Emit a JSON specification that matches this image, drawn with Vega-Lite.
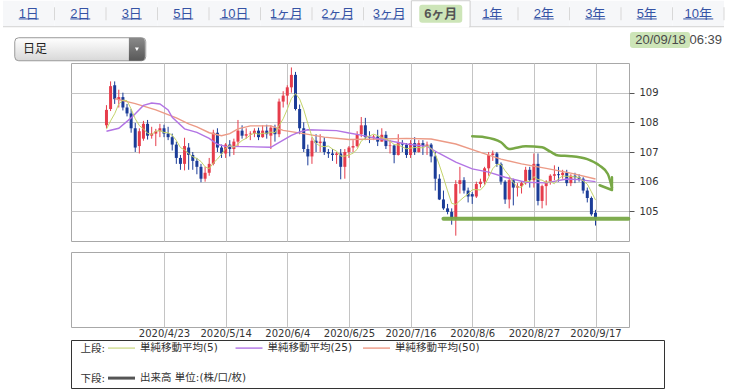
{
"$schema": "https://vega.github.io/schema/vega-lite/v6.json",
"background": "#ffffff",
"padding": {"left": 2, "top": 0, "right": 0, "bottom": 0},
"spacing": -1,
"config": {"view": {"stroke": null}, "font": "DejaVu Sans"},
"datasets": {
"tabs": [{"tab":"1日","selected":false},{"tab":"2日","selected":false},{"tab":"3日","selected":false},{"tab":"5日","selected":false},{"tab":"10日","selected":false},{"tab":"1ヶ月","selected":false},{"tab":"2ヶ月","selected":false},{"tab":"3ヶ月","selected":false},{"tab":"6ヶ月","selected":true},{"tab":"1年","selected":false},{"tab":"2年","selected":false},{"tab":"3年","selected":false},{"tab":"5年","selected":false},{"tab":"10年","selected":false}],
"candles": [
{"d":"2020-04-03","o":107.90,"h":108.58,"l":107.80,"c":108.42},
{"d":"2020-04-06","o":108.45,"h":109.38,"l":108.38,"c":109.22},
{"d":"2020-04-07","o":109.25,"h":109.38,"l":108.62,"c":108.78},
{"d":"2020-04-08","o":108.75,"h":109.10,"l":108.50,"c":108.85},
{"d":"2020-04-09","o":108.85,"h":109.00,"l":108.40,"c":108.50},
{"d":"2020-04-10","o":108.50,"h":108.62,"l":108.20,"c":108.30},
{"d":"2020-04-13","o":108.30,"h":108.45,"l":107.65,"c":107.80},
{"d":"2020-04-14","o":107.80,"h":107.98,"l":107.00,"c":107.15},
{"d":"2020-04-15","o":107.20,"h":107.80,"l":106.95,"c":107.70},
{"d":"2020-04-16","o":107.45,"h":108.05,"l":107.38,"c":107.95},
{"d":"2020-04-17","o":107.95,"h":108.08,"l":107.42,"c":107.55},
{"d":"2020-04-20","o":107.55,"h":107.85,"l":107.45,"c":107.62},
{"d":"2020-04-21","o":107.62,"h":107.78,"l":107.20,"c":107.70},
{"d":"2020-04-22","o":107.70,"h":107.95,"l":107.50,"c":107.80},
{"d":"2020-04-23","o":107.80,"h":107.92,"l":107.50,"c":107.62},
{"d":"2020-04-24","o":107.62,"h":107.85,"l":107.40,"c":107.50},
{"d":"2020-04-27","o":107.50,"h":107.62,"l":107.05,"c":107.25},
{"d":"2020-04-28","o":107.25,"h":107.35,"l":106.60,"c":106.80},
{"d":"2020-04-29","o":106.80,"h":106.90,"l":106.40,"c":106.60},
{"d":"2020-04-30","o":106.60,"h":107.48,"l":106.38,"c":107.20},
{"d":"2020-05-01","o":107.15,"h":107.30,"l":106.40,"c":106.90},
{"d":"2020-05-04","o":106.90,"h":107.00,"l":106.40,"c":106.70},
{"d":"2020-05-05","o":106.70,"h":106.80,"l":106.25,"c":106.50},
{"d":"2020-05-06","o":106.50,"h":106.60,"l":105.98,"c":106.10},
{"d":"2020-05-07","o":106.10,"h":106.50,"l":106.00,"c":106.30},
{"d":"2020-05-08","o":106.30,"h":106.80,"l":106.20,"c":106.60},
{"d":"2020-05-11","o":106.60,"h":107.75,"l":106.55,"c":107.65},
{"d":"2020-05-12","o":107.65,"h":107.80,"l":107.00,"c":107.15},
{"d":"2020-05-13","o":107.15,"h":107.25,"l":106.80,"c":106.95},
{"d":"2020-05-14","o":106.95,"h":107.30,"l":106.80,"c":107.25},
{"d":"2020-05-15","o":107.25,"h":107.40,"l":106.85,"c":107.10},
{"d":"2020-05-18","o":107.10,"h":107.45,"l":106.90,"c":107.35},
{"d":"2020-05-19","o":107.35,"h":108.08,"l":107.20,"c":107.72},
{"d":"2020-05-20","o":107.72,"h":107.90,"l":107.45,"c":107.55},
{"d":"2020-05-21","o":107.55,"h":107.80,"l":107.45,"c":107.60},
{"d":"2020-05-22","o":107.60,"h":107.70,"l":107.40,"c":107.62},
{"d":"2020-05-25","o":107.62,"h":107.80,"l":107.50,"c":107.72},
{"d":"2020-05-26","o":107.72,"h":107.82,"l":107.40,"c":107.50},
{"d":"2020-05-27","o":107.50,"h":107.90,"l":107.48,"c":107.72},
{"d":"2020-05-28","o":107.72,"h":107.92,"l":107.45,"c":107.60},
{"d":"2020-05-29","o":107.55,"h":107.90,"l":107.10,"c":107.82},
{"d":"2020-06-01","o":107.82,"h":107.92,"l":107.35,"c":107.60},
{"d":"2020-06-02","o":107.60,"h":108.80,"l":107.50,"c":108.70},
{"d":"2020-06-03","o":108.70,"h":109.05,"l":108.50,"c":108.90},
{"d":"2020-06-04","o":108.90,"h":109.25,"l":108.60,"c":109.18},
{"d":"2020-06-05","o":109.18,"h":109.85,"l":109.00,"c":109.60},
{"d":"2020-06-08","o":109.60,"h":109.70,"l":108.40,"c":108.45},
{"d":"2020-06-09","o":108.45,"h":108.60,"l":107.60,"c":107.80},
{"d":"2020-06-10","o":107.80,"h":108.00,"l":107.00,"c":107.10},
{"d":"2020-06-11","o":107.10,"h":107.25,"l":106.55,"c":106.85},
{"d":"2020-06-12","o":106.85,"h":107.50,"l":106.60,"c":107.38},
{"d":"2020-06-15","o":107.38,"h":107.60,"l":107.00,"c":107.30},
{"d":"2020-06-16","o":107.30,"h":107.60,"l":107.00,"c":107.35},
{"d":"2020-06-17","o":107.35,"h":107.50,"l":106.90,"c":107.00},
{"d":"2020-06-18","o":107.00,"h":107.10,"l":106.80,"c":106.95},
{"d":"2020-06-19","o":106.95,"h":107.10,"l":106.70,"c":106.90},
{"d":"2020-06-22","o":106.90,"h":107.00,"l":106.60,"c":106.95},
{"d":"2020-06-23","o":106.95,"h":107.10,"l":106.08,"c":106.50},
{"d":"2020-06-24","o":106.50,"h":107.10,"l":106.10,"c":107.00},
{"d":"2020-06-25","o":107.00,"h":107.20,"l":106.80,"c":107.15},
{"d":"2020-06-26","o":107.15,"h":107.40,"l":107.00,"c":107.20},
{"d":"2020-06-29","o":107.20,"h":107.70,"l":107.15,"c":107.60},
{"d":"2020-06-30","o":107.60,"h":108.18,"l":107.50,"c":107.90},
{"d":"2020-07-01","o":107.90,"h":108.15,"l":107.40,"c":107.50},
{"d":"2020-07-02","o":107.50,"h":107.70,"l":107.30,"c":107.48},
{"d":"2020-07-03","o":107.48,"h":107.58,"l":107.40,"c":107.52},
{"d":"2020-07-06","o":107.52,"h":107.75,"l":107.20,"c":107.35},
{"d":"2020-07-07","o":107.35,"h":107.80,"l":107.35,"c":107.58},
{"d":"2020-07-08","o":107.58,"h":107.70,"l":107.10,"c":107.20},
{"d":"2020-07-09","o":107.20,"h":107.40,"l":106.95,"c":107.22},
{"d":"2020-07-10","o":107.22,"h":107.25,"l":106.62,"c":106.90},
{"d":"2020-07-13","o":106.90,"h":107.60,"l":106.88,"c":107.30},
{"d":"2020-07-14","o":107.30,"h":107.40,"l":107.00,"c":107.25},
{"d":"2020-07-15","o":107.25,"h":107.30,"l":106.80,"c":106.90},
{"d":"2020-07-16","o":106.90,"h":107.40,"l":106.80,"c":107.30},
{"d":"2020-07-17","o":107.30,"h":107.50,"l":106.90,"c":107.00},
{"d":"2020-07-20","o":107.00,"h":107.40,"l":106.98,"c":107.30},
{"d":"2020-07-21","o":107.30,"h":107.40,"l":106.90,"c":107.20},
{"d":"2020-07-22","o":107.20,"h":107.35,"l":106.90,"c":107.25},
{"d":"2020-07-23","o":107.25,"h":107.30,"l":106.65,"c":106.85},
{"d":"2020-07-24","o":106.85,"h":107.00,"l":105.70,"c":106.10},
{"d":"2020-07-27","o":106.10,"h":106.25,"l":105.38,"c":105.40},
{"d":"2020-07-28","o":105.40,"h":105.70,"l":105.05,"c":105.10},
{"d":"2020-07-29","o":105.10,"h":105.25,"l":104.90,"c":104.98},
{"d":"2020-07-30","o":104.98,"h":105.10,"l":104.55,"c":104.75},
{"d":"2020-07-31","o":104.75,"h":106.05,"l":104.18,"c":105.92},
{"d":"2020-08-03","o":105.92,"h":106.50,"l":105.60,"c":106.05},
{"d":"2020-08-04","o":106.05,"h":106.15,"l":105.60,"c":105.70},
{"d":"2020-08-05","o":105.70,"h":105.80,"l":105.30,"c":105.50},
{"d":"2020-08-06","o":105.58,"h":105.65,"l":105.25,"c":105.50},
{"d":"2020-08-07","o":105.50,"h":106.00,"l":105.45,"c":105.92},
{"d":"2020-08-10","o":105.92,"h":106.10,"l":105.80,"c":106.00},
{"d":"2020-08-11","o":106.00,"h":106.50,"l":105.90,"c":106.45},
{"d":"2020-08-12","o":106.45,"h":107.00,"l":106.20,"c":106.90},
{"d":"2020-08-13","o":106.90,"h":107.05,"l":106.70,"c":106.95},
{"d":"2020-08-14","o":106.95,"h":107.00,"l":106.50,"c":106.60},
{"d":"2020-08-17","o":106.60,"h":106.65,"l":105.90,"c":106.00},
{"d":"2020-08-18","o":106.00,"h":106.05,"l":105.25,"c":105.40},
{"d":"2020-08-19","o":105.40,"h":106.15,"l":105.10,"c":106.05},
{"d":"2020-08-20","o":106.05,"h":106.10,"l":105.20,"c":105.80},
{"d":"2020-08-21","o":105.80,"h":105.95,"l":105.50,"c":105.85},
{"d":"2020-08-24","o":105.85,"h":106.00,"l":105.60,"c":105.95},
{"d":"2020-08-25","o":105.95,"h":106.50,"l":105.90,"c":106.40},
{"d":"2020-08-26","o":106.40,"h":106.50,"l":105.80,"c":106.05},
{"d":"2020-08-27","o":106.05,"h":106.95,"l":105.80,"c":106.60},
{"d":"2020-08-28","o":106.60,"h":106.95,"l":105.20,"c":105.35},
{"d":"2020-08-31","o":105.35,"h":105.90,"l":105.10,"c":105.85},
{"d":"2020-09-01","o":105.85,"h":106.05,"l":105.20,"c":106.00},
{"d":"2020-09-02","o":106.00,"h":106.25,"l":105.90,"c":106.20},
{"d":"2020-09-03","o":106.20,"h":106.55,"l":106.05,"c":106.25},
{"d":"2020-09-04","o":106.25,"h":106.50,"l":106.00,"c":106.22},
{"d":"2020-09-07","o":106.22,"h":106.40,"l":106.10,"c":106.30},
{"d":"2020-09-08","o":106.30,"h":106.40,"l":105.85,"c":105.95},
{"d":"2020-09-09","o":105.95,"h":106.25,"l":105.85,"c":106.20},
{"d":"2020-09-10","o":106.20,"h":106.30,"l":105.95,"c":106.15},
{"d":"2020-09-11","o":106.15,"h":106.25,"l":106.00,"c":106.10},
{"d":"2020-09-14","o":106.10,"h":106.15,"l":105.60,"c":105.70},
{"d":"2020-09-15","o":105.70,"h":105.80,"l":105.30,"c":105.45},
{"d":"2020-09-16","o":105.45,"h":105.50,"l":104.85,"c":104.90},
{"d":"2020-09-17","o":104.95,"h":105.05,"l":104.52,"c":104.75}
],
"ma": [
{"d":"2020-04-03","s":"5","v":107.77},{"d":"2020-04-06","s":"5","v":108.05},{"d":"2020-04-07","s":"5","v":108.29},{"d":"2020-04-08","s":"5","v":108.62},{"d":"2020-04-09","s":"5","v":108.75},{"d":"2020-04-10","s":"5","v":108.73},{"d":"2020-04-13","s":"5","v":108.45},{"d":"2020-04-14","s":"5","v":108.12},{"d":"2020-04-15","s":"5","v":107.89},{"d":"2020-04-16","s":"5","v":107.78},{"d":"2020-04-17","s":"5","v":107.63},{"d":"2020-04-20","s":"5","v":107.59},{"d":"2020-04-21","s":"5","v":107.70},{"d":"2020-04-22","s":"5","v":107.72},{"d":"2020-04-23","s":"5","v":107.66},{"d":"2020-04-24","s":"5","v":107.65},{"d":"2020-04-27","s":"5","v":107.57},{"d":"2020-04-28","s":"5","v":107.39},{"d":"2020-04-29","s":"5","v":107.15},{"d":"2020-04-30","s":"5","v":107.07},{"d":"2020-05-01","s":"5","v":106.95},{"d":"2020-05-04","s":"5","v":106.84},{"d":"2020-05-05","s":"5","v":106.78},{"d":"2020-05-06","s":"5","v":106.68},{"d":"2020-05-07","s":"5","v":106.50},{"d":"2020-05-08","s":"5","v":106.44},{"d":"2020-05-11","s":"5","v":106.63},{"d":"2020-05-12","s":"5","v":106.76},{"d":"2020-05-13","s":"5","v":106.93},{"d":"2020-05-14","s":"5","v":107.12},{"d":"2020-05-15","s":"5","v":107.22},{"d":"2020-05-18","s":"5","v":107.16},{"d":"2020-05-19","s":"5","v":107.27},{"d":"2020-05-20","s":"5","v":107.39},{"d":"2020-05-21","s":"5","v":107.46},{"d":"2020-05-22","s":"5","v":107.57},{"d":"2020-05-25","s":"5","v":107.64},{"d":"2020-05-26","s":"5","v":107.60},{"d":"2020-05-27","s":"5","v":107.63},{"d":"2020-05-28","s":"5","v":107.63},{"d":"2020-05-29","s":"5","v":107.67},{"d":"2020-06-01","s":"5","v":107.65},{"d":"2020-06-02","s":"5","v":107.89},{"d":"2020-06-03","s":"5","v":108.12},{"d":"2020-06-04","s":"5","v":108.44},{"d":"2020-06-05","s":"5","v":108.80},{"d":"2020-06-08","s":"5","v":108.97},{"d":"2020-06-09","s":"5","v":108.79},{"d":"2020-06-10","s":"5","v":108.43},{"d":"2020-06-11","s":"5","v":107.96},{"d":"2020-06-12","s":"5","v":107.52},{"d":"2020-06-15","s":"5","v":107.29},{"d":"2020-06-16","s":"5","v":107.20},{"d":"2020-06-17","s":"5","v":107.18},{"d":"2020-06-18","s":"5","v":107.20},{"d":"2020-06-19","s":"5","v":107.10},{"d":"2020-06-22","s":"5","v":107.03},{"d":"2020-06-23","s":"5","v":106.86},{"d":"2020-06-24","s":"5","v":106.86},{"d":"2020-06-25","s":"5","v":106.90},{"d":"2020-06-26","s":"5","v":106.96},{"d":"2020-06-29","s":"5","v":107.09},{"d":"2020-06-30","s":"5","v":107.37},{"d":"2020-07-01","s":"5","v":107.47},{"d":"2020-07-02","s":"5","v":107.54},{"d":"2020-07-03","s":"5","v":107.60},{"d":"2020-07-06","s":"5","v":107.55},{"d":"2020-07-07","s":"5","v":107.49},{"d":"2020-07-08","s":"5","v":107.43},{"d":"2020-07-09","s":"5","v":107.37},{"d":"2020-07-10","s":"5","v":107.25},{"d":"2020-07-13","s":"5","v":107.24},{"d":"2020-07-14","s":"5","v":107.17},{"d":"2020-07-15","s":"5","v":107.11},{"d":"2020-07-16","s":"5","v":107.13},{"d":"2020-07-17","s":"5","v":107.15},{"d":"2020-07-20","s":"5","v":107.15},{"d":"2020-07-21","s":"5","v":107.14},{"d":"2020-07-22","s":"5","v":107.21},{"d":"2020-07-23","s":"5","v":107.12},{"d":"2020-07-24","s":"5","v":106.94},{"d":"2020-07-27","s":"5","v":106.56},{"d":"2020-07-28","s":"5","v":106.14},{"d":"2020-07-29","s":"5","v":105.69},{"d":"2020-07-30","s":"5","v":105.27},{"d":"2020-07-31","s":"5","v":105.23},{"d":"2020-08-03","s":"5","v":105.36},{"d":"2020-08-04","s":"5","v":105.48},{"d":"2020-08-05","s":"5","v":105.58},{"d":"2020-08-06","s":"5","v":105.73},{"d":"2020-08-07","s":"5","v":105.73},{"d":"2020-08-10","s":"5","v":105.72},{"d":"2020-08-11","s":"5","v":105.87},{"d":"2020-08-12","s":"5","v":106.15},{"d":"2020-08-13","s":"5","v":106.44},{"d":"2020-08-14","s":"5","v":106.58},{"d":"2020-08-17","s":"5","v":106.58},{"d":"2020-08-18","s":"5","v":106.37},{"d":"2020-08-19","s":"5","v":106.20},{"d":"2020-08-20","s":"5","v":105.97},{"d":"2020-08-21","s":"5","v":105.82},{"d":"2020-08-24","s":"5","v":105.81},{"d":"2020-08-25","s":"5","v":106.01},{"d":"2020-08-26","s":"5","v":106.01},{"d":"2020-08-27","s":"5","v":106.17},{"d":"2020-08-28","s":"5","v":106.07},{"d":"2020-08-31","s":"5","v":106.05},{"d":"2020-09-01","s":"5","v":105.97},{"d":"2020-09-02","s":"5","v":106.00},{"d":"2020-09-03","s":"5","v":105.93},{"d":"2020-09-04","s":"5","v":106.10},{"d":"2020-09-07","s":"5","v":106.19},{"d":"2020-09-08","s":"5","v":106.18},{"d":"2020-09-09","s":"5","v":106.18},{"d":"2020-09-10","s":"5","v":106.16},{"d":"2020-09-11","s":"5","v":106.14},{"d":"2020-09-14","s":"5","v":106.02},{"d":"2020-09-15","s":"5","v":105.92},{"d":"2020-09-16","s":"5","v":105.66},{"d":"2020-09-17","s":"5","v":105.38},
{"d":"2020-04-03","s":"25","v":107.70},{"d":"2020-04-08","s":"25","v":107.80},{"d":"2020-04-13","s":"25","v":108.15},{"d":"2020-04-16","s":"25","v":108.57},{"d":"2020-04-20","s":"25","v":108.65},{"d":"2020-04-22","s":"25","v":108.62},{"d":"2020-04-24","s":"25","v":108.42},{"d":"2020-04-27","s":"25","v":108.17},{"d":"2020-04-30","s":"25","v":107.78},{"d":"2020-05-05","s":"25","v":107.66},{"d":"2020-05-08","s":"25","v":107.46},{"d":"2020-05-12","s":"25","v":107.26},{"d":"2020-05-14","s":"25","v":107.19},{"d":"2020-05-21","s":"25","v":107.18},{"d":"2020-05-29","s":"25","v":107.16},{"d":"2020-06-01","s":"25","v":107.24},{"d":"2020-06-05","s":"25","v":107.56},{"d":"2020-06-09","s":"25","v":107.68},{"d":"2020-06-11","s":"25","v":107.75},{"d":"2020-06-22","s":"25","v":107.72},{"d":"2020-06-25","s":"25","v":107.64},{"d":"2020-06-30","s":"25","v":107.57},{"d":"2020-07-06","s":"25","v":107.45},{"d":"2020-07-15","s":"25","v":107.27},{"d":"2020-07-22","s":"25","v":107.19},{"d":"2020-07-27","s":"25","v":106.95},{"d":"2020-07-31","s":"25","v":106.66},{"d":"2020-08-06","s":"25","v":106.43},{"d":"2020-08-12","s":"25","v":106.32},{"d":"2020-08-18","s":"25","v":106.15},{"d":"2020-08-25","s":"25","v":105.98},{"d":"2020-09-01","s":"25","v":105.96},{"d":"2020-09-08","s":"25","v":106.09},{"d":"2020-09-11","s":"25","v":106.07},{"d":"2020-09-17","s":"25","v":106.00},
{"d":"2020-04-07","s":"50","v":108.80},{"d":"2020-04-14","s":"50","v":108.63},{"d":"2020-04-21","s":"50","v":108.42},{"d":"2020-04-28","s":"50","v":108.15},{"d":"2020-05-01","s":"50","v":107.95},{"d":"2020-05-05","s":"50","v":107.85},{"d":"2020-05-08","s":"50","v":107.65},{"d":"2020-05-13","s":"50","v":107.55},{"d":"2020-05-15","s":"50","v":107.62},{"d":"2020-05-19","s":"50","v":107.78},{"d":"2020-05-22","s":"50","v":107.88},{"d":"2020-05-29","s":"50","v":107.88},{"d":"2020-06-03","s":"50","v":107.73},{"d":"2020-06-10","s":"50","v":107.62},{"d":"2020-06-17","s":"50","v":107.50},{"d":"2020-06-25","s":"50","v":107.42},{"d":"2020-07-07","s":"50","v":107.44},{"d":"2020-07-15","s":"50","v":107.46},{"d":"2020-07-23","s":"50","v":107.44},{"d":"2020-07-31","s":"50","v":107.27},{"d":"2020-08-10","s":"50","v":106.99},{"d":"2020-08-17","s":"50","v":106.76},{"d":"2020-08-24","s":"50","v":106.60},{"d":"2020-09-01","s":"50","v":106.45},{"d":"2020-09-09","s":"50","v":106.29},{"d":"2020-09-17","s":"50","v":106.09}
],
"support": [{"d":"2020-07-28","d2":"2020-09-29","p":104.75}],
"arc": [{"d":"2020-08-06","p":107.53},{"d":"2020-08-11","p":107.50},{"d":"2020-08-17","p":107.33},{"d":"2020-08-19","p":107.10},{"d":"2020-08-20","p":107.12},{"d":"2020-08-25","p":107.19},{"d":"2020-08-31","p":107.16},{"d":"2020-09-02","p":107.01},{"d":"2020-09-04","p":106.88},{"d":"2020-09-09","p":106.86},{"d":"2020-09-15","p":106.76},{"d":"2020-09-18","p":106.54},{"d":"2020-09-22","p":106.26},{"d":"2020-09-23","p":105.80}],
"head": [{"d":"2020-09-18","p":105.88},{"d":"2020-09-23","p":105.72},{"d":"2020-09-23","p":106.15}],
"legend": [{"row":"上段:","col":"1","s":"5","label":"単純移動平均(5)"},{"row":"上段:","col":"2","s":"25","label":"単純移動平均(25)"},{"row":"上段:","col":"3","s":"50","label":"単純移動平均(50)"},{"row":"下段:","col":"1","s":"vol","label":"出来高 単位:(株/口/枚)"}]
},
"vconcat": [
 {
  "width": 721, "height": 63,
  "view": {"fill": "#ffffff", "stroke": null},
  "data": {"name": "tabs"},
  "layer": [
   {"mark": {"type": "rect", "fill": "#f6f7f9"},
    "encoding": {
     "x": {"field": "tab", "type": "nominal", "sort": null, "scale": {"type": "band", "domain": ["1日","2日","3日","5日","10日","1ヶ月","2ヶ月","3ヶ月","6ヶ月","1年","2年","3年","5年","10年"], "paddingInner": 0, "paddingOuter": 0}, "axis": null},
     "y": {"datum": "tabs", "type": "nominal", "scale": {"type": "band", "domain": ["tabs","ctrl"], "paddingInner": 0.2676, "paddingOuter": 0.0211}, "axis": null}}},
   {"transform": [{"filter": "datum.selected"}], "mark": {"type": "rule", "stroke": "#d2d2d2", "strokeWidth": 1},
    "encoding": {"y": {"datum": "tabs", "type": "nominal", "bandPosition": 1}}},
   {"transform": [{"filter": "datum.tab != '3ヶ月' && datum.tab != '6ヶ月'"}], "mark": {"type": "tick", "orient": "vertical", "size": 13, "thickness": 1, "color": "#d8d8d8", "opacity": 1},
    "encoding": {"x": {"field": "tab", "type": "nominal", "bandPosition": 1}, "y": {"datum": "tabs", "type": "nominal"}}},
   {"transform": [{"filter": "datum.selected"}], "mark": {"type": "rect", "fill": "#ffffff", "stroke": "#cfcfcf", "strokeWidth": 1, "width": {"band": 1.14}},
    "encoding": {"x": {"field": "tab", "type": "nominal"}, "y": {"datum": "tabs", "type": "nominal"}}},
   {"transform": [{"filter": "datum.selected"}], "mark": {"type": "point", "shape": "stroke", "filled": false, "size": 3249, "strokeWidth": 2, "color": "#ffffff", "opacity": 1},
    "encoding": {"x": {"field": "tab", "type": "nominal"}, "y": {"datum": "tabs", "type": "nominal", "bandPosition": 1}}},
   {"transform": [{"filter": "datum.selected"}], "mark": {"type": "point", "filled": true, "opacity": 1, "size": 1849, "fill": "#cde5b8", "strokeWidth": 0, "shape": "M-0.86,-0.42 L0.86,-0.42 Q1,-0.42 1,-0.28 L1,0.28 Q1,0.42 0.86,0.42 L-0.86,0.42 Q-1,0.42 -1,0.28 L-1,-0.28 Q-1,-0.42 -0.86,-0.42 Z"},
    "encoding": {"x": {"field": "tab", "type": "nominal"}, "y": {"datum": "tabs", "type": "nominal"}}},
   {"transform": [{"filter": "!datum.selected"}], "mark": {"type": "text", "font": "Liberation Sans, Noto Sans CJK JP", "fontSize": 13, "color": "#3553a5"},
    "encoding": {"x": {"field": "tab", "type": "nominal"}, "y": {"datum": "tabs", "type": "nominal"}, "text": {"field": "tab"}}},
   {"transform": [{"filter": "datum.selected"}], "mark": {"type": "text", "font": "Liberation Sans, Noto Sans CJK JP", "fontSize": 13, "fontWeight": "bold", "color": "#555555"},
    "encoding": {"x": {"field": "tab", "type": "nominal"}, "y": {"datum": "tabs", "type": "nominal"}, "text": {"field": "tab"}}},
   {"transform": [{"filter": "!datum.selected"}], "mark": {"type": "point", "shape": "stroke", "filled": false, "strokeWidth": 1, "color": "#3553a5", "opacity": 1},
    "encoding": {"x": {"field": "tab", "type": "nominal"}, "y": {"datum": "tabs", "type": "nominal", "bandPosition": 0.7},
     "size": {"condition": {"test": "length(datum.tab) > 2", "value": 900}, "value": 400}}},
   {"data": {"values": [{"label": "日足"}]}, "mark": {"type": "point", "filled": true, "opacity": 1, "size": 17161, "stroke": "#9a9a9a", "strokeWidth": 1,
     "fill": {"gradient": "linear", "x1": 0, "y1": 0, "x2": 0, "y2": 1, "stops": [{"offset": 0, "color": "#ffffff"}, {"offset": 1, "color": "#d8d8d8"}]},
     "shape": "M-0.939,-0.1756 L0.939,-0.1756 Q1,-0.1756 1,-0.1146 L1,0.1146 Q1,0.1756 0.939,0.1756 L-0.939,0.1756 Q-1,0.1756 -1,0.1146 L-1,-0.1146 Q-1,-0.1756 -0.939,-0.1756 Z"},
    "encoding": {"x": {"datum": "2日", "type": "nominal"}, "y": {"datum": "ctrl", "type": "nominal"}}},
   {"data": {"values": [{"label": "日足"}]}, "mark": {"type": "point", "filled": true, "opacity": 1, "size": 256, "strokeWidth": 0,
     "fill": {"gradient": "linear", "x1": 0, "y1": 0, "x2": 0, "y2": 1, "stops": [{"offset": 0, "color": "#8a8a8a"}, {"offset": 1, "color": "#585858"}]},
     "shape": "M-1,-1.4375 L0.5,-1.4375 Q1,-1.4375 1,-0.9375 L1,0.9375 Q1,1.4375 0.5,1.4375 L-1,1.4375 Z"},
    "encoding": {"x": {"datum": "3日", "type": "nominal", "bandPosition": 0.6}, "y": {"datum": "ctrl", "type": "nominal"}}},
   {"data": {"values": [{"label": "日足"}]}, "mark": {"type": "point", "filled": true, "opacity": 1, "size": 16, "shape": "triangle-down", "fill": "#ffffff", "strokeWidth": 0},
    "encoding": {"x": {"datum": "3日", "type": "nominal", "bandPosition": 0.6}, "y": {"datum": "ctrl", "type": "nominal"}}},
   {"data": {"values": [{"label": "日足"}]}, "mark": {"type": "text", "align": "left", "font": "Noto Sans CJK JP", "fontSize": 12, "color": "#222222"},
    "encoding": {"x": {"datum": "1日", "type": "nominal", "bandPosition": 0.39}, "y": {"datum": "ctrl", "type": "nominal"}, "text": {"field": "label"}}},
   {"data": {"values": [{"time": "20/09/18 06:39"}]}, "mark": {"type": "point", "filled": true, "opacity": 1, "size": 3600, "fill": "#cde5b8", "strokeWidth": 0,
     "shape": "M-0.9,-0.2667 L0.9,-0.2667 Q1,-0.2667 1,-0.1667 L1,0.1667 Q1,0.2667 0.9,0.2667 L-0.9,0.2667 Q-1,0.2667 -1,0.1667 L-1,-0.1667 Q-1,-0.2667 -0.9,-0.2667 Z"},
    "encoding": {"x": {"datum": "5年", "type": "nominal", "bandPosition": 0.757}, "y": {"datum": "ctrl", "type": "nominal", "bandPosition": 0.144}}},
   {"data": {"values": [{"time": "20/09/18 06:39"}]}, "mark": {"type": "text", "align": "right", "font": "Liberation Sans", "fontSize": 13, "color": "#4a4a4a"},
    "encoding": {"x": {"datum": "10年", "type": "nominal", "bandPosition": 0.961}, "y": {"datum": "ctrl", "type": "nominal", "bandPosition": 0.16}, "text": {"field": "time"}}}
  ]
 },
 {"spacing": 0, "hconcat": [
  {"width": 67, "height": 10, "view": {"fill": "#ffffff", "stroke": null}, "data": {"values": [{"k": 1}]}, "mark": {"type": "point", "opacity": 0}, "encoding": {}},
  {"spacing": 9, "vconcat": [
   {
    "width": 558, "height": 178,
    "view": {"stroke": "#a8a8a8"},
    "layer": [
     {"data": {"name": "candles"}, "mark": {"type": "rule", "strokeWidth": 1},
      "encoding": {
       "x": {"field": "d", "type": "ordinal", "scale": {"type": "point", "padding": 0.89, "align": 0.916, "domain": ["2020-03-25","2020-03-26","2020-03-27","2020-03-30","2020-03-31","2020-04-01","2020-04-02","2020-04-03","2020-04-06","2020-04-07","2020-04-08","2020-04-09","2020-04-10","2020-04-13","2020-04-14","2020-04-15","2020-04-16","2020-04-17","2020-04-20","2020-04-21","2020-04-22","2020-04-23","2020-04-24","2020-04-27","2020-04-28","2020-04-29","2020-04-30","2020-05-01","2020-05-04","2020-05-05","2020-05-06","2020-05-07","2020-05-08","2020-05-11","2020-05-12","2020-05-13","2020-05-14","2020-05-15","2020-05-18","2020-05-19","2020-05-20","2020-05-21","2020-05-22","2020-05-25","2020-05-26","2020-05-27","2020-05-28","2020-05-29","2020-06-01","2020-06-02","2020-06-03","2020-06-04","2020-06-05","2020-06-08","2020-06-09","2020-06-10","2020-06-11","2020-06-12","2020-06-15","2020-06-16","2020-06-17","2020-06-18","2020-06-19","2020-06-22","2020-06-23","2020-06-24","2020-06-25","2020-06-26","2020-06-29","2020-06-30","2020-07-01","2020-07-02","2020-07-03","2020-07-06","2020-07-07","2020-07-08","2020-07-09","2020-07-10","2020-07-13","2020-07-14","2020-07-15","2020-07-16","2020-07-17","2020-07-20","2020-07-21","2020-07-22","2020-07-23","2020-07-24","2020-07-27","2020-07-28","2020-07-29","2020-07-30","2020-07-31","2020-08-03","2020-08-04","2020-08-05","2020-08-06","2020-08-07","2020-08-10","2020-08-11","2020-08-12","2020-08-13","2020-08-14","2020-08-17","2020-08-18","2020-08-19","2020-08-20","2020-08-21","2020-08-24","2020-08-25","2020-08-26","2020-08-27","2020-08-28","2020-08-31","2020-09-01","2020-09-02","2020-09-03","2020-09-04","2020-09-07","2020-09-08","2020-09-09","2020-09-10","2020-09-11","2020-09-14","2020-09-15","2020-09-16","2020-09-17","2020-09-18","2020-09-21","2020-09-22","2020-09-23","2020-09-24","2020-09-25","2020-09-28","2020-09-29"]},
        "axis": {"values": ["2020-04-23","2020-05-14","2020-06-04","2020-06-25","2020-07-16","2020-08-06","2020-08-27","2020-09-17"], "grid": true, "gridColor": "#c4c4c4", "labels": false, "ticks": false, "domain": false, "title": null}},
       "y": {"field": "l", "type": "quantitative", "scale": {"domain": [104, 110], "zero": false, "nice": false},
        "axis": {"orient": "right", "values": [105, 106, 107, 108, 109], "grid": true, "gridColor": "#c4c4c4", "tickSize": 5, "tickColor": "#555555", "labelPadding": 5, "labelFontSize": 10, "labelColor": "#333333", "labelFont": "DejaVu Sans", "domain": false, "title": null}},
       "y2": {"field": "h"},
       "color": {"condition": {"test": "datum.c >= datum.o", "value": "#e63c4b"}, "value": "#1b3c98"}}},
     {"data": {"name": "candles"}, "mark": {"type": "bar", "width": 3},
      "encoding": {"x": {"field": "d", "type": "ordinal"}, "y": {"field": "o", "type": "quantitative"}, "y2": {"field": "c"},
       "color": {"condition": {"test": "datum.c >= datum.o", "value": "#e63c4b"}, "value": "#1b3c98"}}},
     {"data": {"name": "ma"}, "transform": [{"filter": "datum.s == '50'"}], "mark": {"type": "line", "color": "#ec9a86", "strokeWidth": 1.4},
      "encoding": {"x": {"field": "d", "type": "ordinal"}, "y": {"field": "v", "type": "quantitative"}}},
     {"data": {"name": "ma"}, "transform": [{"filter": "datum.s == '25'"}], "mark": {"type": "line", "color": "#b274e4", "strokeWidth": 1.4},
      "encoding": {"x": {"field": "d", "type": "ordinal"}, "y": {"field": "v", "type": "quantitative"}}},
     {"data": {"name": "ma"}, "transform": [{"filter": "datum.s == '5'"}], "mark": {"type": "line", "color": "#c4d46a", "strokeWidth": 1},
      "encoding": {"x": {"field": "d", "type": "ordinal"}, "y": {"field": "v", "type": "quantitative"}}},
     {"data": {"name": "support"}, "mark": {"type": "rule", "strokeWidth": 4, "color": "#78a846", "strokeCap": "round", "opacity": 0.95},
      "encoding": {"x": {"field": "d", "type": "ordinal"}, "x2": {"field": "d2"}, "y": {"field": "p", "type": "quantitative"}}},
     {"data": {"name": "arc"}, "mark": {"type": "line", "interpolate": "monotone", "strokeWidth": 2.5, "color": "#78a846", "strokeCap": "round"},
      "encoding": {"x": {"field": "d", "type": "ordinal"}, "y": {"field": "p", "type": "quantitative"}}},
     {"data": {"name": "head"}, "mark": {"type": "line", "strokeWidth": 2.5, "color": "#78a846", "strokeCap": "round", "strokeJoin": "round"},
      "encoding": {"x": {"field": "d", "type": "ordinal"}, "y": {"field": "p", "type": "quantitative"}}}
    ]
   },
   {"spacing": 0, "vconcat": [
    {
     "width": 558, "height": 75,
     "view": {"stroke": "#a8a8a8"},
     "data": {"name": "candles"},
     "mark": {"type": "rule", "opacity": 0},
     "encoding": {
      "x": {"field": "d", "type": "ordinal", "scale": {"type": "point", "padding": 0.89, "align": 0.916, "domain": ["2020-03-25","2020-03-26","2020-03-27","2020-03-30","2020-03-31","2020-04-01","2020-04-02","2020-04-03","2020-04-06","2020-04-07","2020-04-08","2020-04-09","2020-04-10","2020-04-13","2020-04-14","2020-04-15","2020-04-16","2020-04-17","2020-04-20","2020-04-21","2020-04-22","2020-04-23","2020-04-24","2020-04-27","2020-04-28","2020-04-29","2020-04-30","2020-05-01","2020-05-04","2020-05-05","2020-05-06","2020-05-07","2020-05-08","2020-05-11","2020-05-12","2020-05-13","2020-05-14","2020-05-15","2020-05-18","2020-05-19","2020-05-20","2020-05-21","2020-05-22","2020-05-25","2020-05-26","2020-05-27","2020-05-28","2020-05-29","2020-06-01","2020-06-02","2020-06-03","2020-06-04","2020-06-05","2020-06-08","2020-06-09","2020-06-10","2020-06-11","2020-06-12","2020-06-15","2020-06-16","2020-06-17","2020-06-18","2020-06-19","2020-06-22","2020-06-23","2020-06-24","2020-06-25","2020-06-26","2020-06-29","2020-06-30","2020-07-01","2020-07-02","2020-07-03","2020-07-06","2020-07-07","2020-07-08","2020-07-09","2020-07-10","2020-07-13","2020-07-14","2020-07-15","2020-07-16","2020-07-17","2020-07-20","2020-07-21","2020-07-22","2020-07-23","2020-07-24","2020-07-27","2020-07-28","2020-07-29","2020-07-30","2020-07-31","2020-08-03","2020-08-04","2020-08-05","2020-08-06","2020-08-07","2020-08-10","2020-08-11","2020-08-12","2020-08-13","2020-08-14","2020-08-17","2020-08-18","2020-08-19","2020-08-20","2020-08-21","2020-08-24","2020-08-25","2020-08-26","2020-08-27","2020-08-28","2020-08-31","2020-09-01","2020-09-02","2020-09-03","2020-09-04","2020-09-07","2020-09-08","2020-09-09","2020-09-10","2020-09-11","2020-09-14","2020-09-15","2020-09-16","2020-09-17","2020-09-18","2020-09-21","2020-09-22","2020-09-23","2020-09-24","2020-09-25","2020-09-28","2020-09-29"]},
       "axis": {"orient": "bottom", "values": ["2020-04-23","2020-05-14","2020-06-04","2020-06-25","2020-07-16","2020-08-06","2020-08-27","2020-09-17"], "labelExpr": "utcFormat(toDate(datum.value), '%Y/%-m/%-d')", "grid": true, "gridColor": "#c4c4c4", "ticks": false, "domain": false, "labelPadding": 1, "labelFontSize": 10, "labelColor": "#333333", "labelFont": "DejaVu Sans", "labelAngle": 0, "labelOverlap": false, "title": null}}
     }
    },
    {
     "width": 593, "height": 48,
     "view": {"stroke": "#333333"},
     "data": {"name": "legend"},
     "encoding": {
      "y": {"field": "row", "type": "nominal", "sort": null, "scale": {"type": "point", "domain": ["上段:","下段:"], "padding": 0.3, "align": 0.45},
       "axis": {"orient": "left", "ticks": false, "tickSize": 0, "domain": false, "grid": false, "labelAlign": "left", "labelPadding": -9, "labelFontSize": 10.5, "labelColor": "#333333", "labelFont": "DejaVu Sans, Noto Sans CJK JP", "title": null}},
      "x": {"field": "col", "type": "ordinal", "scale": {"type": "band", "domain": ["1","2","3"], "paddingInner": 0, "paddingOuter": 0.8255, "align": 0.157}, "axis": null}
     },
     "layer": [
      {"transform": [{"filter": "datum.s != 'vol'"}], "mark": {"type": "point", "shape": "stroke", "filled": false, "size": 729, "strokeWidth": 1.5, "opacity": 1},
       "encoding": {"x": {"field": "col", "type": "ordinal", "bandPosition": 0.137},
        "color": {"field": "s", "type": "nominal", "scale": {"domain": ["5","25","50","vol"], "range": ["#d3de96","#b57ae6","#ee9f8c","#555555"]}, "legend": null}}},
      {"transform": [{"filter": "datum.s == 'vol'"}], "mark": {"type": "point", "shape": "stroke", "filled": false, "size": 729, "strokeWidth": 3, "opacity": 1},
       "encoding": {"x": {"field": "col", "type": "ordinal", "bandPosition": 0.137},
        "color": {"field": "s", "type": "nominal", "legend": null}}},
      {"mark": {"type": "text", "align": "left", "fontSize": 10.5, "color": "#333333", "font": "DejaVu Sans, Noto Sans CJK JP"},
       "encoding": {"x": {"field": "col", "type": "ordinal", "bandPosition": 0.282}, "text": {"field": "label"}}}
     ]
    }
   ]}
  ]}
 ]}
]
}
